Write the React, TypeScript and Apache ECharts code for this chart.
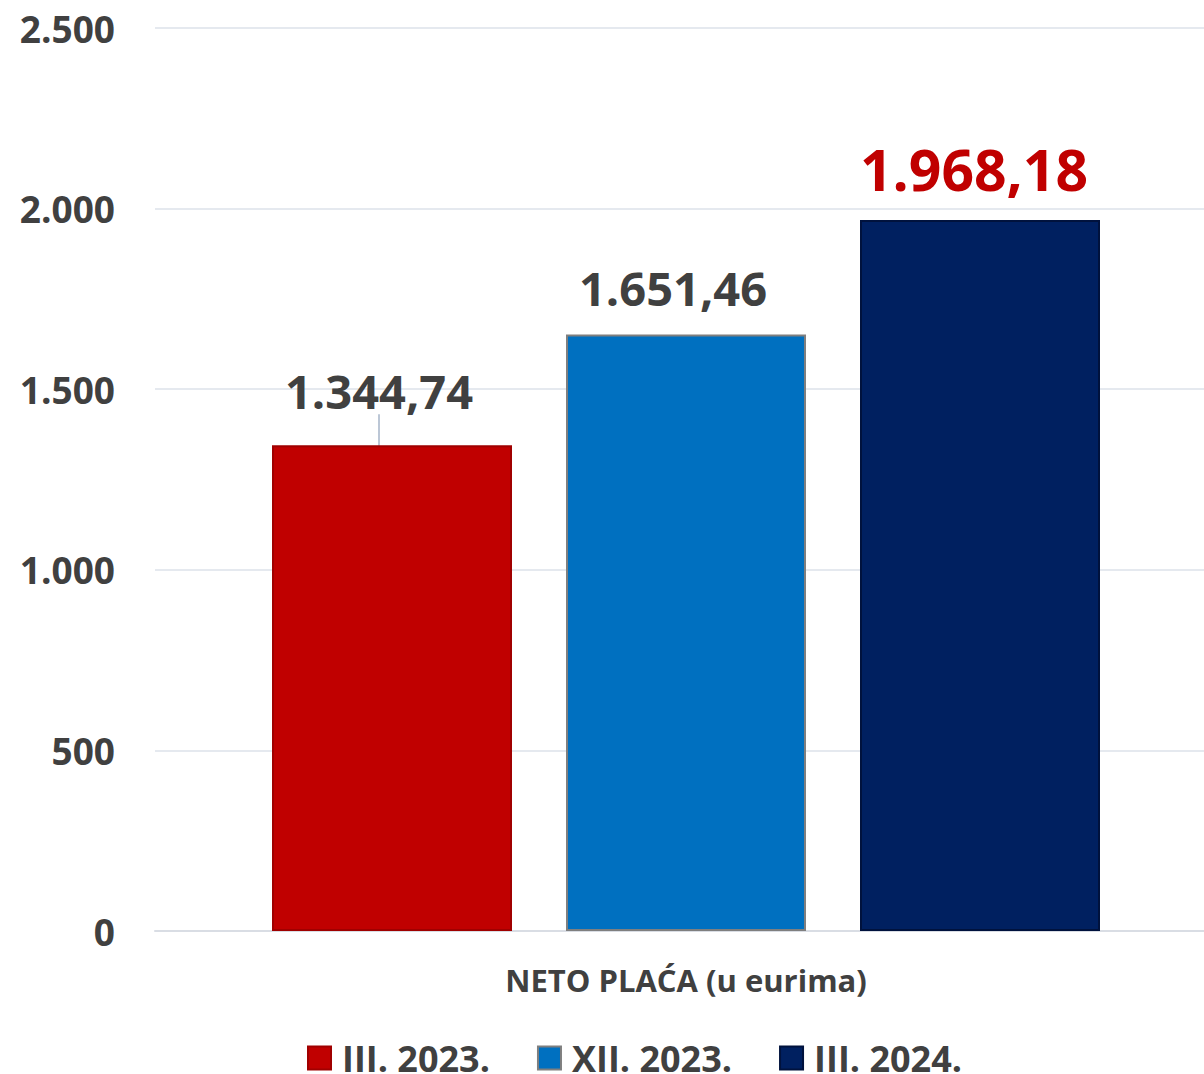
import React, { useEffect, useRef } from "react";
import * as echarts from "echarts";

const categories = ["NETO PLAĆA (u eurima)"];
const seriesNames = ["III. 2023.", "XII. 2023.", "III. 2024."];
const seriesValues = [1344.74, 1651.46, 1968.18];
const seriesColors = ["#C00000", "#0070C0", "#002060"];
const borderColors = ["#A00000", "#7F7F7F", "#00123D"];
const labelColors = ["#404040", "#404040", "#C00000"];
const labelSizes = [47, 47, 57];
const yTicks = { min: 0, max: 2500, interval: 500 };

const FONT = "'Open Sans', sans-serif";

function hr(v: number, decimals: number) {
  const fixed = v.toFixed(decimals);
  const [intPart, dec] = fixed.split(".");
  const withDots = intPart.replace(/\B(?=(\d{3})+(?!\d))/g, ".");
  return dec ? withDots + "," + dec : withDots;
}

export default function App() {
  const ref = useRef<HTMLDivElement>(null);
  useEffect(() => {
    if (!ref.current) return;
    const chart = echarts.init(ref.current, undefined, { renderer: "svg" });
    const series = seriesNames.map((name, i) => ({
      name,
      type: "bar",
      data: [seriesValues[i]],
      barWidth: 240,
      barGap: "22.5%",
      itemStyle: {
        color: seriesColors[i],
        borderColor: borderColors[i],
        borderWidth: 2,
      },
      label: {
        show: true,
        position: "top",
        distance: 23,
        offset: i === 0 ? [0, 0] : i === 1 ? [-13, 0] : [-6, 0],
        formatter: (p: any) => hr(p.value, 2),
        color: labelColors[i],
        fontSize: labelSizes[i],
        fontWeight: "bold",
        fontFamily: FONT,
      },
      labelLayout: i === 0 ? { dx: -13, dy: -8 } : undefined,
      labelLine: i === 0 ? { show: true, lineStyle: { color: "#A6B4C8", width: 1.5 } } : undefined,
    }));
    chart.setOption({
      animation: false,
      backgroundColor: "#FFFFFF",
      grid: { left: 155, right: 0, top: 28, bottom: 143 },
      legend: {
        data: seriesNames,
        top: 1040,
        left: 307,
        padding: 0,
        icon: "rect",
        itemWidth: 23,
        itemHeight: 23,
        itemGap: 47,
        textStyle: {
          color: "#404040",
          fontSize: 36,
          lineHeight: 30,
          fontWeight: "bold",
          fontFamily: FONT,
          padding: [0, 0, 0, 6],
        },
      },
      xAxis: {
        type: "category",
        data: categories,
        axisTick: { show: false },
        axisLine: { lineStyle: { color: "#D9DDE4", width: 2 } },
        axisLabel: {
          color: "#404040",
          fontSize: 31,
          fontWeight: "bold",
          fontFamily: FONT,
          margin: 33,
        },
      },
      yAxis: {
        type: "value",
        min: yTicks.min,
        max: yTicks.max,
        interval: yTicks.interval,
        axisLine: { show: false },
        axisTick: { show: false },
        splitLine: { lineStyle: { color: "#DDE2EA", width: 1.5 } },
        axisLabel: {
          color: "#404040",
          fontSize: 37,
          fontWeight: "bold",
          fontFamily: FONT,
          margin: 40,
          formatter: (v: number) => hr(v, 0),
        },
      },
      series,
    });
    return () => chart.dispose();
  }, []);
  return (
    <div
      style={{
        position: "absolute",
        left: 0,
        top: 0,
        width: 1204,
        height: 1074,
        overflow: "hidden",
      }}
    >
      <div ref={ref} style={{ width: 1217, height: 1074 }} />
    </div>
  );
}
